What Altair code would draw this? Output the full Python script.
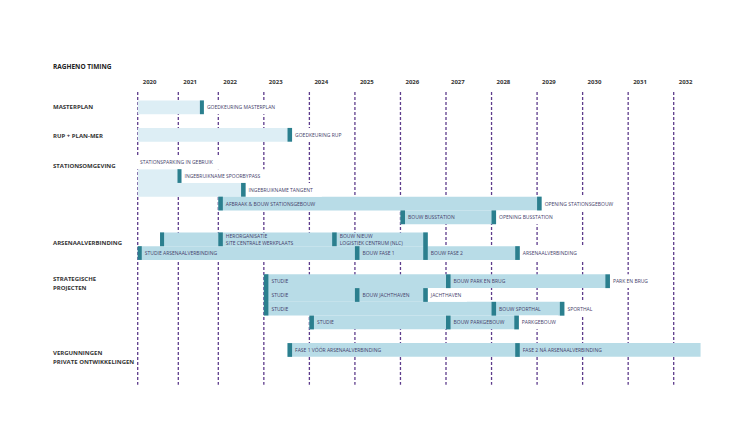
import altair as alt
import pandas as pd

# ---------------- data ----------------
title_text = "RAGHENO TIMING"
years = list(range(2020, 2033))

group_labels = ["MASTERPLAN", "RUP + PLAN-MER", "STATIONSOMGEVING", "ARSENAALVERBINDING",
                "STRATEGISCHE\nPROJECTEN", "VERGUNNINGEN\nPRIVATE ONTWIKKELINGEN"]
group_rows = [0, 2.1, 4.25, 9.85, 12.5, 17.9]

# bars (row, start year, end year, tone)
bar_row = [0, 2, 5, 6, 7, 8, 9.6, 10.6, 12.65, 13.65, 14.65, 15.65, 17.65]
bar_start = [2020, 2020, 2020, 2020, 2022.0, 2026.0, 2020.55, 2020, 2023, 2023, 2023, 2024, 2023.52]
bar_end = [2021.64, 2023.62, 2021.08, 2022.6, 2029.1, 2028.1, 2026.6, 2028.62,
           2030.6, 2026.6, 2029.6, 2028.6, 2032.59]
bar_tone = ["light", "light", "light", "light", "mid", "mid", "mid", "mid",
            "mid", "mid", "mid", "mid", "mid"]

# milestone markers (year, top row, bottom row)
ms_x = [2021.54, 2023.52, 2020.98, 2022.5, 2022.0, 2029.0, 2026.0, 2028.0,
        2020.55, 2022.0, 2024.5, 2026.5, 2020.0, 2025.0, 2028.52,
        2023.0, 2027.0, 2030.5, 2025.0, 2026.5, 2028.0, 2029.5, 2024.0, 2027.0, 2028.5,
        2023.52, 2028.52]
ms_top = [0, 2, 5, 6, 7, 7, 8, 8,
          9.6, 9.6, 9.6, 9.6, 10.6, 10.6, 10.6,
          12.65, 12.65, 12.65, 13.65, 13.65, 14.65, 14.65, 15.65, 15.65, 15.65,
          17.65, 17.65]
ms_bottom = [0, 2, 5, 6, 7, 7, 8, 8,
             9.6, 9.6, 9.6, 10.6, 10.6, 10.6, 10.6,
             14.65, 12.65, 12.65, 13.65, 13.65, 14.65, 14.65, 15.65, 15.65, 15.65,
             17.65, 17.65]

# labels (text, year of the marker it follows, row, outside a bar?)
lab_text = ["GOEDKEURING MASTERPLAN", "GOEDKEURING RUP", "STATIONSPARKING IN GEBRUIK",
            "INGEBRUIKNAME SPOORBYPASS", "INGEBRUIKNAME TANGENT",
            "AFBRAAK & BOUW STATIONSGEBOUW", "OPENING STATIONSGEBOUW",
            "BOUW BUSSTATION", "OPENING BUSSTATION",
            "HERORGANISATIE\nSITE CENTRALE WERKPLAATS", "BOUW NIEUW\nLOGISTIEK CENTRUM (NLC)",
            "STUDIE ARSENAALVERBINDING", "BOUW FASE 1", "BOUW FASE 2", "ARSENAALVERBINDING",
            "STUDIE", "BOUW PARK EN BRUG", "PARK EN BRUG",
            "STUDIE", "BOUW JACHTHAVEN", "JACHTHAVEN",
            "STUDIE", "BOUW SPORTHAL", "SPORTHAL",
            "STUDIE", "BOUW PARKGEBOUW", "PARKGEBOUW",
            "FASE 1 VÓÓR ARSENAALVERBINDING", "FASE 2 NÁ ARSENAALVERBINDING"]
lab_x = [2021.54, 2023.52, 2019.88, 2020.98, 2022.5,
         2022.0, 2029.0, 2026.0, 2028.0,
         2022.0, 2024.5,
         2020.0, 2025.0, 2026.5, 2028.52,
         2023.0, 2027.0, 2030.5,
         2023.0, 2025.0, 2026.5,
         2023.0, 2028.0, 2029.5,
         2024.0, 2027.0, 2028.5,
         2023.52, 2028.52]
lab_row = [0, 2, 4, 5, 6, 7, 7, 8, 8, 9.34, 9.34, 10.6, 10.6, 10.6, 10.6,
           12.65, 12.65, 12.65, 13.65, 13.65, 13.65, 14.65, 14.65, 14.65,
           15.65, 15.65, 15.65, 17.65, 17.65]
lab_outside = [True, True, True, True, True, False, True, False, True, False, False,
               False, False, False, True, False, False, True, False, False, True,
               False, False, True, False, False, True, False, False]

# ---------------- tables ----------------
MW = 0.1  # marker width in years
bars = pd.DataFrame({"row": bar_row, "start": bar_start, "end": bar_end, "tone": bar_tone})
bars["y0"] = bars["row"] - 0.5
bars["y1"] = bars["row"] + 0.5

ms = pd.DataFrame({"x": ms_x, "top": ms_top, "bottom": ms_bottom})
ms["x2"] = ms["x"] + MW
ms["y0"] = ms["top"] - 0.5
ms["y1"] = ms["bottom"] + 0.5

labs = pd.DataFrame({"text": lab_text, "x": lab_x, "row": lab_row, "outside": lab_outside})
labs["tx"] = labs["x"] + MW
labs["bgx2"] = labs["tx"] + labs["text"].str.len() * 0.074 + 0.12
labs["y0"] = labs["row"] - 0.5
labs["y1"] = labs["row"] + 0.5
bgs = labs[labs["outside"]]

yr = pd.DataFrame({"year": years, "label": [str(y) for y in years]})
yr["top"] = -1.11
yr["bottom"] = 20.18
yr["ly"] = -1.84

groups = pd.DataFrame({"label": group_labels, "row": group_rows})
title_df = pd.DataFrame({"label": [title_text], "row": [-2.93]})

# ---------------- scales ----------------
xs = alt.Scale(domain=[2020, 2021, 2022, 2032], range=[129.7, 170.3, 210.3, 665.7],
               nice=False, zero=False)
ys = alt.Scale(domain=[-7.222, 22.669], reverse=True, nice=False, zero=False)

FONT = "Open Sans"
LIGHT = "#DDEEF5"
MID = "#B8DCE7"
MARK = "#2B7F8E"
LINE = "#5E3C8C"
TXT = "#45406A"

rules = alt.Chart(yr).mark_rule(color=LINE, strokeDash=[3, 2], strokeWidth=1.3).encode(
    x=alt.X("year:Q", scale=xs, axis=None),
    y=alt.Y("top:Q", scale=ys, axis=None),
    y2="bottom:Q",
)

year_text = alt.Chart(yr).mark_text(align="left", baseline="middle", dx=5, font=FONT,
                                    fontSize=6, fontWeight="bold", color="#333333").encode(
    x=alt.X("year:Q", scale=xs, axis=None),
    y=alt.Y("ly:Q", scale=ys, axis=None),
    text="label:N",
)

bar_layer = alt.Chart(bars).mark_rect().encode(
    x=alt.X("start:Q", scale=xs, axis=None),
    x2="end:Q",
    y=alt.Y("y0:Q", scale=ys, axis=None),
    y2="y1:Q",
    color=alt.Color("tone:N", scale=alt.Scale(domain=["light", "mid"], range=[LIGHT, MID]),
                    legend=None),
)

bg_layer = alt.Chart(bgs).mark_rect(color="white").encode(
    x=alt.X("tx:Q", scale=xs, axis=None),
    x2="bgx2:Q",
    y=alt.Y("y0:Q", scale=ys, axis=None),
    y2="y1:Q",
)

ms_layer = alt.Chart(ms).mark_rect(color=MARK).encode(
    x=alt.X("x:Q", scale=xs, axis=None),
    x2="x2:Q",
    y=alt.Y("y0:Q", scale=ys, axis=None),
    y2="y1:Q",
)

lab_layer = alt.Chart(labs).mark_text(align="left", baseline="middle", dx=3, font=FONT,
                                      fontSize=5, color=TXT, lineBreak="\n",
                                      lineHeight=7).encode(
    x=alt.X("tx:Q", scale=xs, axis=None),
    y=alt.Y("row:Q", scale=ys, axis=None),
    text="text:N",
)

group_layer = alt.Chart(groups).mark_text(align="left", baseline="middle", font=FONT,
                                          fontSize=6, fontWeight="bold", color="#333333",
                                          lineBreak="\n", lineHeight=8.7).encode(
    x=alt.value(45),
    y=alt.Y("row:Q", scale=ys, axis=None),
    text="label:N",
)

title_layer = alt.Chart(title_df).mark_text(align="left", baseline="middle", font=FONT,
                                            fontSize=6.5, fontWeight="bold",
                                            color="#222222").encode(
    x=alt.value(45),
    y=alt.Y("row:Q", scale=ys, axis=None),
    text="label:N",
)

chart = alt.layer(rules, year_text, bar_layer, bg_layer, ms_layer, lab_layer,
                  group_layer, title_layer).properties(
    width=734, height=411, padding=0,
    autosize=alt.AutoSizeParams(type="none"),
).configure_view(stroke=None)

chart.save("out.html", embed_options={"renderer": "svg", "actions": False})
